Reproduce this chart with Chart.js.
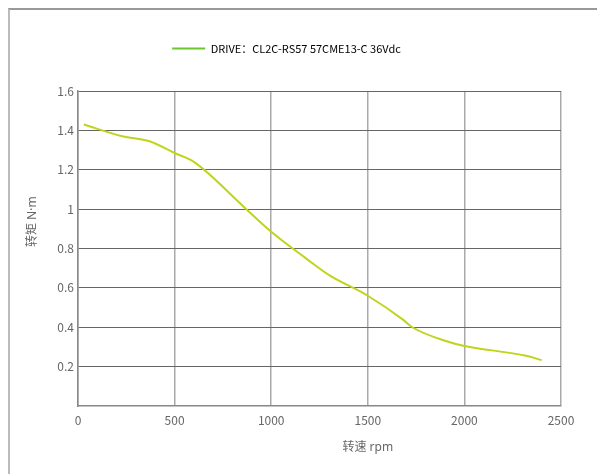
<!DOCTYPE html>
<html>
<head>
<meta charset="utf-8">
<script src="https://cdn.jsdelivr.net/npm/chart.js@4"></script>
<style>
  body { margin: 0; background: #fff; }
  #wrap { position: relative; width: 597px; height: 474px; }
  #frame { position: absolute; left: 8px; top: 8px; right: 0; bottom: 0;
           border-top: 2px solid #999; border-left: 2px solid #bbb; pointer-events: none; }
</style>
</head>
<body>
<div id="wrap">
  <canvas id="torqueChart" width="597" height="474"></canvas>
  <div id="frame"></div>
</div>
<script>
const seriesName = "DRIVE：CL2C-RS57 57CME13-C 36Vdc";
const speedRpm = [30, 230, 370, 500, 600, 860, 1000, 1180, 1300, 1500, 1680, 1730, 1920, 2000, 2320, 2400];
const torqueNm = [1.43, 1.37, 1.345, 1.285, 1.24, 1.01, 0.885, 0.75, 0.665, 0.56, 0.44, 0.40, 0.325, 0.305, 0.255, 0.233];
const xTicks = [0, 500, 1000, 1500, 2000, 2500];
const yTicks = [0.2, 0.4, 0.6, 0.8, 1, 1.2, 1.4, 1.6];

const FONT = "'Noto Sans CJK SC', 'Noto Sans', sans-serif";
const TITLE_FONT = "'Noto Sans', 'Noto Sans CJK SC', sans-serif";

// axis titles sit off-centre in the original, so draw them by hand
const axisTitles = {
  id: "axisTitles",
  afterDraw(chart) {
    const { ctx, chartArea } = chart;
    ctx.save();
    ctx.fillStyle = "#666";
    ctx.font = "12px " + TITLE_FONT;
    ctx.textAlign = "center";
    ctx.textBaseline = "middle";
    ctx.fillText("转速 rpm", chartArea.left + (chartArea.right - chartArea.left) * 0.6, chartArea.bottom + 42);
    ctx.translate(chartArea.left - 45, chartArea.top + (chartArea.bottom - chartArea.top) * 0.415);
    ctx.rotate(-Math.PI / 2);
    ctx.fillText("转矩 N·m", 0, 0);
    ctx.restore();
  }
};

// fixed legend band height, and nudge it a little to the right like the original
const legendTweak = {
  id: "legendTweak",
  beforeInit(chart) {
    const fit = chart.legend.fit;
    chart.legend.fit = function () {
      fit.bind(chart.legend)();
      this.height = 58;
    };
  },
  afterLayout(chart) {
    chart.legend.left += 6;
    chart.legend.right += 6;
  }
};

const ctx = document.getElementById("torqueChart").getContext("2d");
new Chart(ctx, {
  type: "line",
  data: {
    datasets: [{
      label: seriesName,
      data: speedRpm.map((s, i) => ({ x: s, y: torqueNm[i] })),
      borderColor: "#bfd41a",
      borderWidth: 2,
      pointRadius: 0,
      fill: false,
      cubicInterpolationMode: "monotone"
    }]
  },
  options: {
    responsive: false,
    animation: false,
    layout: { padding: { left: 0, right: 36, top: 33, bottom: 0 } },
    plugins: {
      tooltip: { enabled: false },
      legend: {
        position: "top",
        labels: {
          color: "#777",
          font: { family: FONT, size: 11 },
          boxWidth: 33,
          boxHeight: 2,
          padding: 10,
          generateLabels: (chart) => chart.data.datasets.map((d, i) => ({
            text: d.label,
            fillStyle: "#6cc72e",
            strokeStyle: "#6cc72e",
            lineWidth: 0,
            datasetIndex: i
          }))
        }
      }
    },
    scales: {
      x: {
        type: "linear",
        min: 0,
        max: 2500,
        afterBuildTicks: (s) => { s.ticks = xTicks.map(v => ({ value: v })); },
        afterFit: (s) => { s.height = 68; },
        grid: { color: "#aaa", lineWidth: 1.5, drawTicks: false },
        border: { color: "#888", width: 1.5 },
        ticks: { color: "#666", font: { family: FONT, size: 12 }, padding: 7, maxRotation: 0,
                 callback: (v) => String(v) }
      },
      y: {
        min: 0,
        max: 1.6,
        afterBuildTicks: (s) => { s.ticks = yTicks.map(v => ({ value: v })); },
        afterFit: (s) => { s.width = 78; },
        grid: { color: "#666", lineWidth: 1, drawTicks: false },
        border: { color: "#888", width: 1.5 },
        ticks: { color: "#666", font: { family: FONT, size: 12 }, padding: 4,
                 callback: (v) => String(v) }
      }
    }
  },
  plugins: [axisTitles, legendTweak]
});
</script>
</body>
</html>
